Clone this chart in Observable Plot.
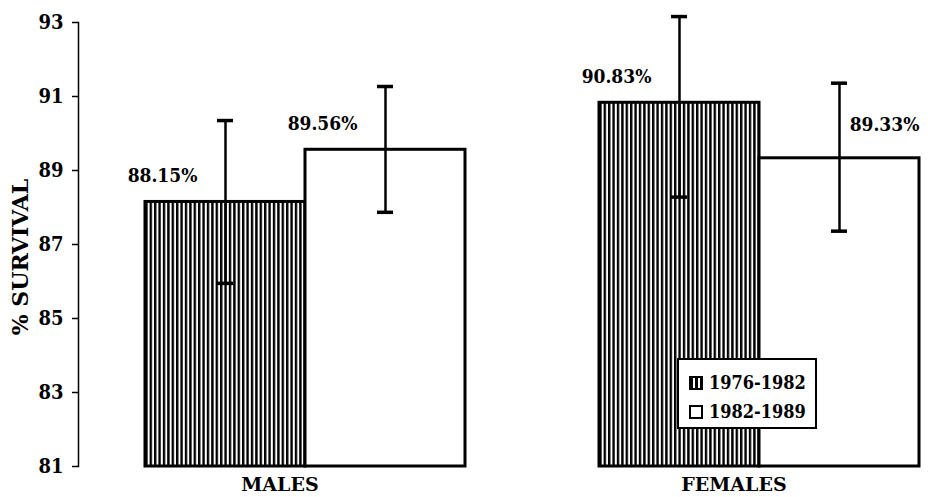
<!DOCTYPE html>
<html>
<head>
<meta charset="utf-8">
<script src="https://cdn.jsdelivr.net/npm/d3@7"></script>
<script src="https://cdn.jsdelivr.net/npm/@observablehq/plot@0.6"></script>
<style>
  html, body { margin: 0; padding: 0; background: #fff; }
  #chart { position: relative; width: 928px; height: 497px; overflow: hidden;
    font-family: "DejaVu Serif Condensed", "DejaVu Serif", serif; font-stretch: condensed; font-weight: bold; color: #000; }
  #chart svg text { font-stretch: condensed; }
  #chart svg .grp text { font-family: "DejaVu Serif", serif; font-stretch: normal; }
  #ylabel { position: absolute; left: 20px; top: 257px; transform: translate(-50%, -50%) rotate(-90deg);
    white-space: nowrap; font-size: 22px; font-family: "DejaVu Serif", serif; font-stretch: normal; }
  #legend { position: absolute; left: 677px; top: 358px; width: 136px; height: 67px; border: 2.5px solid #000;
    background: #fff; }
  .item { position: absolute; left: 10px; display: flex; align-items: center; font-size: 18px; line-height: 1; }
  .sw { width: 10px; height: 10px; border: 2.5px solid #000; margin-right: 6px; box-sizing: content-box; }
  .sw.h { background: repeating-linear-gradient(90deg, #000 0 2.4px, #fff 2.4px 4.4px); }
  .sw.w { background: #fff; }
</style>
</head>
<body>
<div id="chart"></div>
<script>
// ---- data ----
const groups = ["MALES", "FEMALES"];
const periods = ["1976-1982", "1982-1989"];
// values in order: MALES 1976-1982, MALES 1982-1989, FEMALES 1976-1982, FEMALES 1982-1989
const survival = [88.15, 89.56, 90.83, 89.33];
const errLow  = [85.95, 87.87, 88.28, 87.36];
const errHigh = [90.35, 91.27, 93.16, 91.36];
const valueLabels = ["88.15%", "89.56%", "90.83%", "89.33%"];
const yTicks = [81, 83, 85, 87, 89, 91, 93];
const yTitle = "% SURVIVAL";

const rows = groups.flatMap((g, i) => periods.map((p, j) => {
  const k = i * periods.length + j;
  return {group: g, period: p, value: survival[k], lo: errLow[k], hi: errHigh[k], label: valueLabels[k]};
}));
const base = d3.min(yTicks);
const isHatched = d => d.period === periods[0];
const labelRight = d => d.group === groups[1] && d.period === periods[1];

const font = '"DejaVu Serif Condensed", "DejaVu Serif", serif';

const svg = Plot.plot({
  width: 928,
  height: 497,
  marginLeft: 78,
  marginRight: 9,
  marginTop: 22,
  marginBottom: 31,
  style: {fontFamily: font, fontWeight: "bold", fontSize: "19px", color: "#000", background: "#fff", overflow: "visible"},
  fx: {domain: groups, paddingInner: 0.1476, paddingOuter: 0, label: null},
  x: {domain: periods, padding: 0, insetLeft: 67, axis: null},
  y: {domain: [d3.min(yTicks), d3.max(yTicks)], axis: null},
  marks: [
    Plot.barY(rows.filter(isHatched), {fx: "group", x: "period", y1: base, y2: "value",
      fill: "url(#hatch)", stroke: "#000", strokeWidth: 3}),
    Plot.barY(rows.filter(d => !isHatched(d)), {fx: "group", x: "period", y1: base, y2: "value",
      fill: "#fff", stroke: "#000", strokeWidth: 3}),
    Plot.ruleX(rows, {fx: "group", x: "period", y1: "lo", y2: "hi", stroke: "#000", strokeWidth: 2.5}),
    Plot.tickY(rows, {fx: "group", x: "period", y: "hi", stroke: "#000", strokeWidth: 3.5, inset: 72}),
    Plot.tickY(rows, {fx: "group", x: "period", y: "lo", stroke: "#000", strokeWidth: 3.5, inset: 72}),
    Plot.text(rows.filter(d => !labelRight(d)), {fx: "group", x: "period", y: "value", text: "label",
      dx: -63, dy: -26, fontSize: 19, fill: "#000"}),
    Plot.text(rows.filter(labelRight), {fx: "group", x: "period", y: "value", text: "label",
      dx: 45, dy: -33, fontSize: 19, fill: "#000"}),
    Plot.frame({anchor: "left", facetAnchor: "left", stroke: "#000", strokeWidth: 1.5}),
    Plot.axisY({ticks: yTicks, tickSize: 6, tickPadding: 9, strokeWidth: 1.5, label: null, fontSize: 20,
      tickFormat: d3.format("d")}),
    Plot.axisFx({anchor: "bottom", label: null, tickSize: 0, tickPadding: 11, dx: 8, fontSize: 19, className: "grp"})
  ]
});

d3.select(svg).insert("defs", ":first-child").html(
  '<pattern id="hatch" patternUnits="userSpaceOnUse" x="0" y="0" width="4.4" height="10">' +
  '<rect x="0" y="0" width="4.4" height="10" fill="#fff"/>' +
  '<rect x="0" y="0" width="2.4" height="10" fill="#000"/></pattern>');

const chart = document.getElementById("chart");
chart.appendChild(svg);

const yl = document.createElement("div");
yl.id = "ylabel";
yl.textContent = yTitle;
chart.appendChild(yl);

const legend = document.createElement("div");
legend.id = "legend";
periods.forEach((p, i) => {
  const item = document.createElement("div");
  item.className = "item";
  item.style.top = (14 + i * 29) + "px";
  const sw = document.createElement("span");
  sw.className = "sw " + (i === 0 ? "h" : "w");
  const t = document.createElement("span");
  t.textContent = p;
  item.appendChild(sw);
  item.appendChild(t);
  legend.appendChild(item);
});
chart.appendChild(legend);
</script>
</body>
</html>
